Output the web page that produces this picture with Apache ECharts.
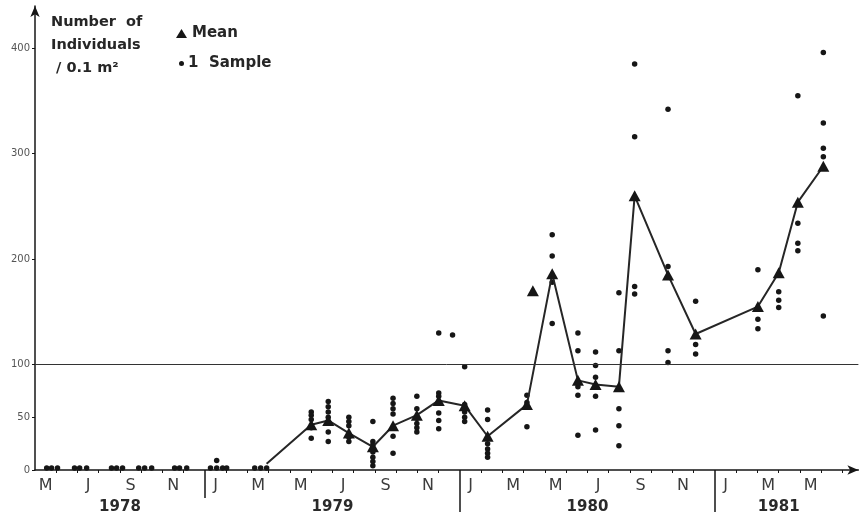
<!DOCTYPE html>
<html>
<head>
<meta charset="utf-8">
<script src="https://cdn.jsdelivr.net/npm/echarts@6/dist/echarts.min.js"></script>
<style>
  html, body { margin: 0; padding: 0; background: #fff; }
  #chart { width: 863px; height: 515px; }
</style>
</head>
<body>
<div id="chart"></div>
<script>
// ---- Data (x in months since 1 Jan 1978; May 1978 = 4..5) ----
const monthTickLabels = ['M','J','S','N','J','M','M','J','S','N','J','M','M','J','S','N','J','M','M'];
const monthTickCenters = [4.5,6.5,8.5,10.5,12.5,14.5,16.5,18.5,20.5,22.5,24.5,26.5,28.5,30.5,32.5,34.5,36.5,38.5,40.5];
const yearLabels = ['1978','1979','1980','1981'];
const yearCenters = [8, 18, 30, 39];
const firstYearBreak = [12];
const laterYearBreaks = [24, 36];
const yTickValues = [0, 50, 100, 200, 300, 400];

// sampling dates and the individual sample counts per 0.1 m²
const sampleDates = [
  4.55, 4.78, 5.06, 5.86, 6.10, 6.43, 7.60, 7.84, 8.12, 8.88, 9.16, 9.49,
  10.57, 10.80, 11.14, 12.26, 12.55, 12.83, 13.02, 14.34, 14.62, 14.90,
  17.00, 17.80, 18.77, 19.90, 20.85, 21.97, 23.00, 23.65, 24.22, 25.30,
  27.15, 28.34, 29.55, 30.38, 31.48, 32.22, 33.79, 35.09, 38.02, 39.00,
  39.90, 41.10
];
const sampleValues = [
  [2], [2], [2], [2], [2], [2], [2], [2], [2], [2], [2], [2],
  [2], [2], [2], [2], [2, 9], [2], [2], [2], [2], [2],
  [55, 52, 48, 40, 30],
  [65, 60, 55, 50, 36, 27],
  [50, 46, 42, 31, 27],
  [46, 27, 24, 17, 12, 8, 4],
  [68, 63, 58, 53, 32, 16],
  [70, 58, 49, 44, 40, 36],
  [130, 73, 70, 54, 47, 39],
  [128],
  [98, 62, 55, 50, 46],
  [57, 48, 25, 20, 16, 12],
  [71, 64, 41],
  [223, 203, 178, 139],
  [130, 113, 79, 71, 33],
  [112, 99, 88, 70, 38],
  [168, 113, 58, 42, 23],
  [385, 316, 174, 167],
  [342, 193, 113, 102],
  [160, 119, 110],
  [190, 143, 134],
  [169, 161, 154],
  [355, 234, 215, 208],
  [396, 329, 305, 297, 146]
];

// connected means (first point is only the start of the line, drawn without a triangle)
const meanDates = [14.90, 17.00, 17.80, 18.77, 19.90, 20.85, 21.97, 23.00, 24.22, 25.30,
  27.15, 28.34, 29.55, 30.38, 31.48, 32.22, 33.79, 35.09, 38.02, 39.00, 39.90, 41.10];
const meanValues = [6, 43, 47, 35, 22, 42, 52, 66, 61, 32,
  62, 186, 85, 81, 79, 260, 185, 129, 155, 187, 254, 288];
// isolated (unconnected) mean
const isolatedMeanDates = [27.43];
const isolatedMeanValues = [170];

// ---- Build series data ----
const samplePoints = [];
sampleDates.forEach((d, i) => sampleValues[i].forEach(v => samplePoints.push([d, v])));
const meanPoints = meanDates.map((d, i) => i === 0 ? { value: [d, meanValues[i]], symbol: 'none' } : [d, meanValues[i]]);
const isoPoints = isolatedMeanDates.map((d, i) => [d, isolatedMeanValues[i]]);

const ink = '#161616';
const boldFont = "'DejaVu Sans', Verdana, sans-serif";

const monthTicks = [];
for (let m = 5; m <= 42; m++) if (firstYearBreak.concat(laterYearBreaks).indexOf(m) < 0) monthTicks.push(m);

const chart = echarts.init(document.getElementById('chart'), null, { renderer: 'canvas' });
chart.setOption({
  animation: false,
  backgroundColor: '#ffffff',
  title: {
    text: 'Number  of\nIndividuals\n / 0.1 m²',
    left: 46, top: 6,
    textStyle: { fontFamily: boldFont, fontSize: 14.5, fontWeight: 'bold', color: '#262626', lineHeight: 23 }
  },
  legend: [
    {
      data: [{ name: 'Mean', icon: 'triangle' }],
      left: 171, top: 21, itemWidth: 11, itemHeight: 9, itemGap: 4,
      textStyle: { fontFamily: boldFont, fontSize: 15, fontWeight: 'bold', color: '#262626', padding: [0, 0, 0, 0] }
    },
    {
      data: [{ name: '1  Sample', icon: 'circle' }],
      left: 174, top: 51, itemWidth: 5, itemHeight: 5,
      textStyle: { fontFamily: boldFont, fontSize: 15, fontWeight: 'bold', color: '#262626', padding: [0, 0, 0, -1] }
    }
  ],
  grid: { left: 35, right: 4.6, top: 6, bottom: 45, containLabel: false },
  xAxis: [
    {
      type: 'value', min: 4, max: 42.75,
      axisLine: { show: true, lineStyle: { color: ink, width: 1.5 }, symbol: ['none', 'arrow'], symbolSize: [7, 11] },
      axisTick: { show: true, inside: false, length: 3, customValues: monthTicks, lineStyle: { color: ink, width: 1 } },
      axisLabel: {
        show: true, customValues: monthTickCenters,
        formatter: (v) => { const i = monthTickCenters.findIndex(c => Math.abs(c - v) < 1e-6); return i >= 0 ? monthTickLabels[i] : ''; },
        margin: 8, fontSize: 16, color: '#3c3c3c', fontFamily: "'DejaVu Sans', sans-serif"
      },
      splitLine: { show: false }
    },
    {
      type: 'value', min: 4, max: 42.75, position: 'bottom',
      axisLine: { show: false },
      axisTick: { show: true, inside: false, length: 42, customValues: laterYearBreaks, lineStyle: { color: ink, width: 1.5 } },
      axisLabel: {
        show: true, customValues: yearCenters,
        formatter: (v) => { const i = yearCenters.indexOf(v); return i >= 0 ? yearLabels[i] : ''; },
        margin: 30, fontSize: 15, fontWeight: 'bold', color: '#2a2a2a', fontFamily: boldFont
      },
      splitLine: { show: false }
    },
    {
      type: 'value', min: 4, max: 42.75, position: 'bottom',
      axisLine: { show: false },
      axisTick: { show: true, inside: false, length: 28, customValues: firstYearBreak, lineStyle: { color: ink, width: 1.5 } },
      axisLabel: { show: false },
      splitLine: { show: false }
    }
  ],
  yAxis: {
    type: 'value', min: 0, max: 440,
    axisLine: { show: true, lineStyle: { color: ink, width: 1.5 }, symbol: ['none', 'arrow'], symbolSize: [7, 11] },
    axisTick: { show: true, length: 3, customValues: yTickValues, lineStyle: { color: ink } },
    axisLabel: { show: true, customValues: yTickValues, margin: 5, fontSize: 10, color: '#555555', fontFamily: "'DejaVu Sans', sans-serif" },
    splitLine: { show: false }
  },
  series: [
    {
      name: '1  Sample', type: 'scatter', xAxisIndex: 0,
      data: samplePoints, symbol: 'circle', symbolSize: 5.5,
      itemStyle: { color: ink, opacity: 1 }, z: 3,
      markLine: {
        silent: true, symbol: ['none', 'none'], label: { show: false },
        lineStyle: { color: '#333', width: 1, type: 'solid' },
        data: [{ yAxis: 100 }]
      }
    },
    {
      name: 'Mean', type: 'line', xAxisIndex: 0,
      data: meanPoints, symbol: 'triangle', symbolSize: [12, 11], showSymbol: true,
      lineStyle: { color: '#262626', width: 2 },
      itemStyle: { color: ink, opacity: 1 }, z: 4
    },
    {
      name: 'Mean', type: 'scatter', xAxisIndex: 0,
      data: isoPoints, symbol: 'triangle', symbolSize: [12, 11],
      itemStyle: { color: ink, opacity: 1 }, z: 4
    }
  ]
});
</script>
</body>
</html>
